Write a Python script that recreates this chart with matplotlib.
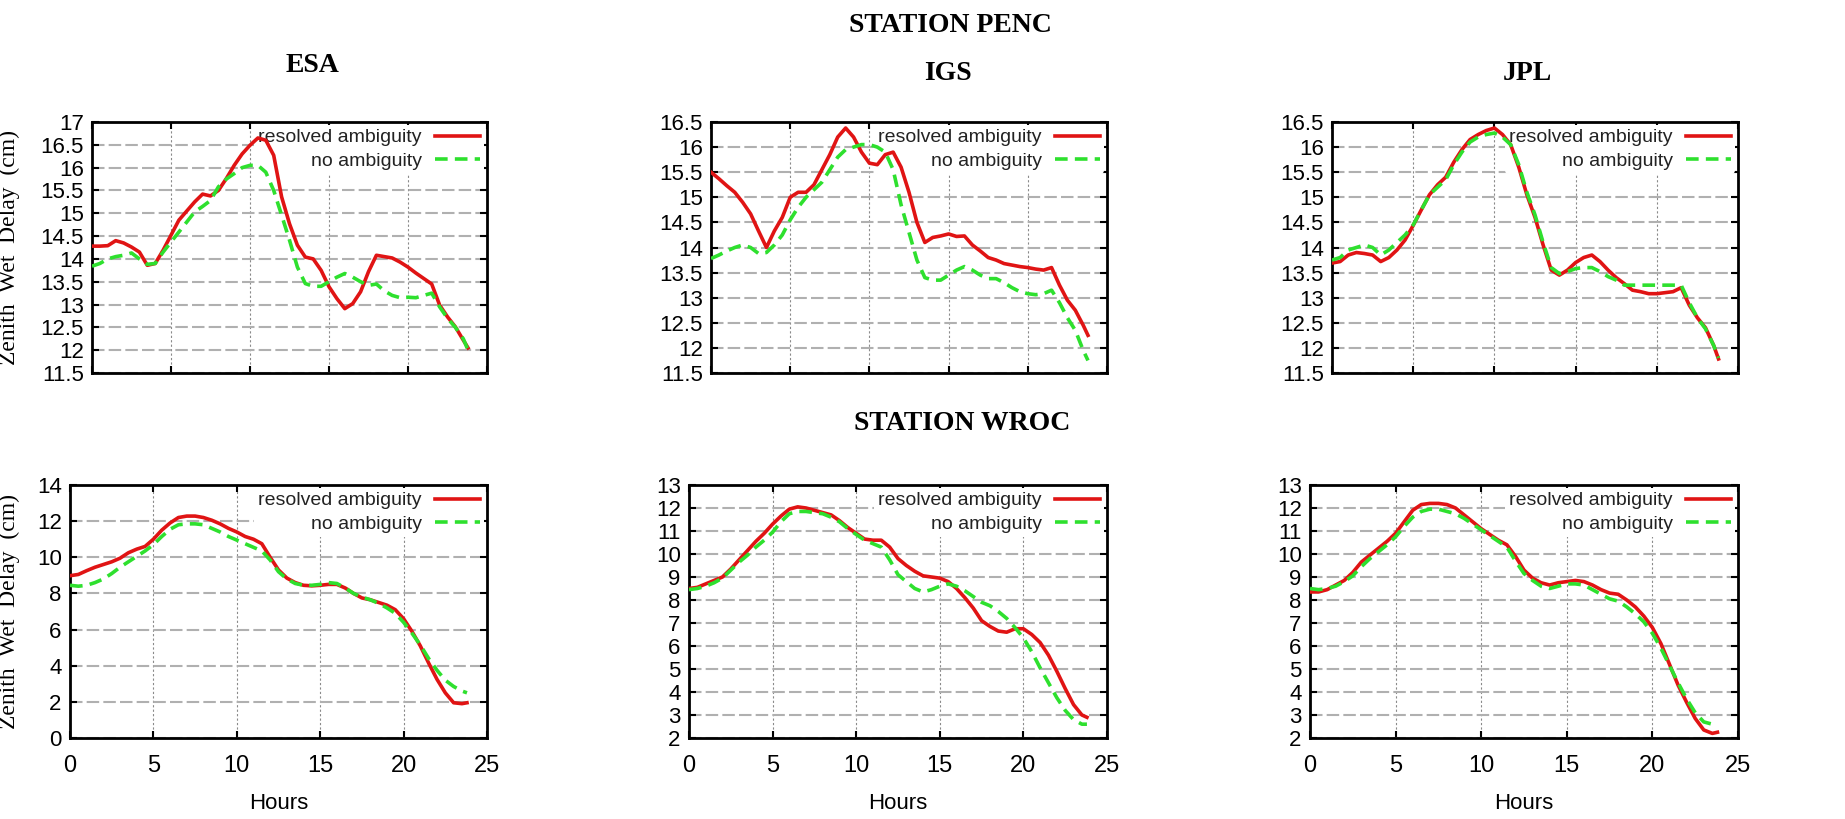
import matplotlib
matplotlib.use("Agg")
import matplotlib.pyplot as plt
from matplotlib.ticker import FormatStrFormatter

# hours of the day (sampling of the curves)
hours = [0, 0.5, 1, 1.5, 2, 2.5, 3, 3.5, 4, 4.5, 5, 5.5, 6, 6.5, 7, 7.5,
         8, 8.5, 9, 9.5, 10, 10.5, 11, 11.5, 12, 12.5, 13, 13.5, 14, 14.5,
         15, 15.5, 16, 16.5, 17, 17.5, 18, 18.5, 19, 19.5, 20, 20.5, 21,
         21.5, 22, 22.5, 23, 23.5, 23.8]

# station PENC (zenith wet delay, cm)
penc_esa_res = [14.28, 14.28, 14.29, 14.4, 14.35, 14.26, 14.15, 13.86, 13.9, 14.19,
                14.52, 14.85, 15.05, 15.25, 15.42, 15.38, 15.5, 15.76, 16.05, 16.3,
                16.49, 16.65, 16.6, 16.27, 15.36, 14.77, 14.3, 14.04, 14.0, 13.75,
                13.39, 13.13, 12.91, 13.02, 13.28, 13.72, 14.08, 14.05, 14.02, 13.93,
                13.82, 13.69, 13.57, 13.45, 12.99, 12.73, 12.51, 12.22, 12.05]
penc_esa_no = [13.84, 13.9, 14.0, 14.05, 14.08, 14.13, 14.0, 13.88, 13.9, 14.15,
               14.37, 14.59, 14.81, 15.03, 15.15, 15.28, 15.58, 15.75, 15.87, 16.0,
               16.05, 16.05, 15.9, 15.5, 14.96, 14.41, 13.82, 13.46, 13.4, 13.4,
               13.5, 13.6, 13.68, 13.6, 13.5, 13.42, 13.45, 13.3, 13.2, 13.15,
               13.16, 13.15, 13.2, 13.25, 12.95, 12.7, 12.5, 12.25, 12.0]
penc_igs_res = [15.5, 15.37, 15.23, 15.1, 14.9, 14.67, 14.33, 14.0, 14.33, 14.6,
                15.0, 15.1, 15.1, 15.25, 15.55, 15.85, 16.2, 16.38, 16.2, 15.9,
                15.68, 15.65, 15.85, 15.9, 15.6, 15.1, 14.5, 14.1, 14.2, 14.23,
                14.27, 14.22, 14.23, 14.05, 13.93, 13.8, 13.75, 13.68, 13.65, 13.62,
                13.6, 13.57, 13.55, 13.6, 13.25, 12.95, 12.75, 12.45, 12.25]
penc_igs_no = [13.78, 13.85, 13.93, 14.0, 14.05, 14.0, 13.88, 13.9, 14.05, 14.25,
               14.55, 14.8, 15.0, 15.15, 15.3, 15.55, 15.8, 15.95, 16.0, 16.05,
               16.05, 16.0, 15.9, 15.55, 14.85, 14.3, 13.75, 13.4, 13.35, 13.35,
               13.45, 13.55, 13.62, 13.55, 13.45, 13.38, 13.38, 13.3, 13.2, 13.12,
               13.08, 13.06, 13.08, 13.15, 12.9, 12.6, 12.35, 11.95, 11.75]
penc_jpl_res = [13.69, 13.72, 13.85, 13.9, 13.88, 13.85, 13.72, 13.8, 13.95, 14.15,
                14.44, 14.75, 15.05, 15.25, 15.4, 15.7, 15.95, 16.15, 16.25, 16.33,
                16.38, 16.25, 16.05, 15.6, 15.05, 14.6, 14.05, 13.55, 13.45, 13.55,
                13.7, 13.8, 13.85, 13.72, 13.55, 13.4, 13.28, 13.15, 13.12, 13.08,
                13.08, 13.1, 13.12, 13.2, 12.85, 12.6, 12.4, 12.05, 11.78]
penc_jpl_no = [13.75, 13.8, 13.95, 14.0, 14.05, 14.0, 13.85, 13.95, 14.1, 14.25,
               14.45, 14.75, 15.05, 15.2, 15.35, 15.65, 15.9, 16.1, 16.2, 16.25,
               16.28, 16.2, 16.05, 15.65, 15.1, 14.65, 14.1, 13.6, 13.48, 13.52,
               13.58, 13.6, 13.6, 13.52, 13.42, 13.35, 13.25, 13.25, 13.25, 13.25,
               13.25, 13.25, 13.25, 13.25, 12.9, 12.6, 12.38, 12.05, 11.8]

# station WROC (zenith wet delay, cm)
wroc_esa_res = [8.98, 9.05, 9.26, 9.45, 9.6, 9.75, 9.95, 10.25, 10.45, 10.6,
                11.0, 11.5, 11.9, 12.2, 12.28, 12.28, 12.2, 12.05, 11.85, 11.6,
                11.4, 11.15, 11.0, 10.75, 10.0, 9.3, 8.85, 8.6, 8.45, 8.42,
                8.45, 8.5, 8.5, 8.3, 8.0, 7.75, 7.65, 7.5, 7.35, 7.1,
                6.6, 5.9, 5.1, 4.15, 3.25, 2.5, 1.95, 1.9, 1.95]
wroc_esa_no = [8.45, 8.4, 8.45, 8.6, 8.8, 9.1, 9.45, 9.75, 10.05, 10.35,
               10.7, 11.15, 11.55, 11.8, 11.85, 11.85, 11.8, 11.6, 11.4, 11.15,
               10.95, 10.75, 10.55, 10.35, 9.85, 9.2, 8.8, 8.55, 8.45, 8.45,
               8.5, 8.6, 8.55, 8.3, 8.0, 7.8, 7.65, 7.45, 7.2, 6.9,
               6.4, 5.8, 5.15, 4.4, 3.75, 3.2, 2.85, 2.6, 2.5]
wroc_igs_res = [8.5, 8.55, 8.7, 8.85, 9.0, 9.35, 9.75, 10.15, 10.55, 10.9,
                11.3, 11.65, 11.95, 12.05, 12.0, 11.9, 11.8, 11.7, 11.45, 11.15,
                10.9, 10.65, 10.6, 10.6, 10.3, 9.8, 9.5, 9.25, 9.05, 9.0,
                8.95, 8.8, 8.5, 8.1, 7.65, 7.1, 6.85, 6.65, 6.6, 6.75,
                6.75, 6.5, 6.15, 5.6, 4.9, 4.15, 3.45, 3.0, 2.9]
wroc_igs_no = [8.45, 8.5, 8.6, 8.75, 8.95, 9.3, 9.65, 9.95, 10.3, 10.6,
               10.95, 11.4, 11.75, 11.85, 11.85, 11.8, 11.75, 11.6, 11.4, 11.1,
               10.85, 10.6, 10.45, 10.3, 9.75, 9.1, 8.8, 8.5, 8.35, 8.45,
               8.6, 8.7, 8.6, 8.4, 8.15, 7.9, 7.75, 7.5, 7.2, 6.8,
               6.35, 5.75, 5.05, 4.4, 3.75, 3.2, 2.8, 2.6, 2.6]
wroc_jpl_res = [8.35, 8.35, 8.45, 8.65, 8.85, 9.2, 9.65, 9.95, 10.25, 10.55,
                10.9, 11.4, 11.9, 12.15, 12.2, 12.2, 12.15, 12.0, 11.7, 11.4,
                11.1, 10.85, 10.6, 10.4, 9.9, 9.3, 8.95, 8.75, 8.65, 8.75,
                8.8, 8.85, 8.8, 8.65, 8.45, 8.3, 8.25, 8.0, 7.7, 7.3,
                6.8, 6.1, 5.2, 4.3, 3.55, 2.85, 2.35, 2.2, 2.25]
wroc_jpl_no = [8.5, 8.45, 8.5, 8.6, 8.8, 9.05, 9.45, 9.8, 10.1, 10.4,
               10.75, 11.2, 11.6, 11.85, 11.95, 11.95, 11.85, 11.75, 11.55, 11.3,
               11.05, 10.8, 10.55, 10.3, 9.7, 9.15, 8.85, 8.6, 8.5, 8.6,
               8.7, 8.7, 8.65, 8.45, 8.25, 8.05, 7.95, 7.7, 7.4, 7.05,
               6.55, 5.9, 5.15, 4.4, 3.7, 3.1, 2.7, 2.6, 2.65]

labels = ['resolved ambiguity', 'no ambiguity']
centres = ['ESA', 'IGS', 'JPL']
x_ticks = [0, 5, 10, 15, 20, 25]

RED = '#e01414'
GREEN = '#2ee02e'
SANS = ['Liberation Sans Narrow', 'Liberation Sans']
SERIF = ['Liberation Serif', 'DejaVu Serif']

fig = plt.figure(figsize=(18.45, 8.19), dpi=100, facecolor='white')

W, H = 1845.0, 819.0
def box(l, r, t, b):
    return [l / W, 1 - b / H, (r - l) / W, (b - t) / H]

panels = [
    # (rect, res, no, ylim, ystep, bottom row)
    (box(92, 487, 122, 373), penc_esa_res, penc_esa_no, (11.5, 17), 0.5, False),
    (box(711, 1107, 122, 373), penc_igs_res, penc_igs_no, (11.5, 16.5), 0.5, False),
    (box(1332, 1738, 122, 373), penc_jpl_res, penc_jpl_no, (11.5, 16.5), 0.5, False),
    (box(70, 487, 485, 738), wroc_esa_res, wroc_esa_no, (0, 14), 2, True),
    (box(689, 1107, 485, 738), wroc_igs_res, wroc_igs_no, (2, 13), 1, True),
    (box(1310, 1738, 485, 738), wroc_jpl_res, wroc_jpl_no, (2, 13), 1, True),
]

for i, (rect, res, no, ylim, ystep, bottom) in enumerate(panels):
    ax = fig.add_axes(rect)
    ax.plot(hours, res, color=RED, lw=2.6, label=labels[0], zorder=3)
    ax.plot(hours, no, color=GREEN, lw=2.6, dashes=(3.5, 2.0), label=labels[1], zorder=3)

    ax.set_xlim(0, 25)
    ax.set_ylim(*ylim)
    ax.set_xticks(x_ticks)
    n = int(round((ylim[1] - ylim[0]) / ystep))
    ax.set_yticks([ylim[0] + k * ystep for k in range(n + 1)])
    ax.yaxis.set_major_formatter(FormatStrFormatter('%g'))

    ax.grid(axis='y', color='#b0b0b0', lw=1.5, linestyle=(0, (6, 2)))
    ax.grid(axis='x', color='#8a8a8a', lw=0.8, linestyle=(0, (2, 2)))
    ax.set_axisbelow(True)

    for s in ax.spines.values():
        s.set_linewidth(2.0)
    ax.tick_params(direction='in', length=5, width=1.5, top=True, right=True,
                   labelsize=16, pad=6)
    for t in ax.get_yticklabels() + ax.get_xticklabels():
        t.set_family(SANS)

    if bottom:
        ax.tick_params(axis='x', pad=12, labelsize=17)
        ax.set_xlabel('Hours', fontsize=16, family=SANS, labelpad=12)
    else:
        ax.tick_params(axis='x', labelbottom=False)

    if i % 3 == 0:
        ax.set_ylabel('Zenith  Wet  Delay  (cm)', fontsize=17, family=SERIF)
        ax.yaxis.set_label_coords((20 - rect[0] * W) / (rect[2] * W), 0.5)

    # white key box hides the grid, curves stay on top (gnuplot style)
    leg = ax.legend(loc='upper right', markerfirst=False,
                    handlelength=2.3, handletextpad=0.7, labelspacing=0.3,
                    borderpad=0.2, borderaxespad=0.15, frameon=True,
                    prop={'family': SANS, 'size': 14})
    leg.get_frame().set_facecolor('white')
    leg.get_frame().set_edgecolor('none')
    leg.get_frame().set_alpha(1)
    leg.set_zorder(1.5)
    for t in leg.get_texts():
        t.set_color('#222222')

title_kw = dict(family=SERIF, fontweight='bold', fontsize=20, ha='center', va='center')
fig.text(950 / W, 1 - 25 / H, 'STATION PENC', **title_kw)
fig.text(312 / W, 1 - 65 / H, centres[0], **title_kw)
fig.text(948 / W, 1 - 74 / H, centres[1], **title_kw)
fig.text(1527 / W, 1 - 74 / H, centres[2], **title_kw)
fig.text(962 / W, 1 - 423 / H, 'STATION WROC', **title_kw)

fig.savefig('out.png', dpi=100, facecolor='white')
